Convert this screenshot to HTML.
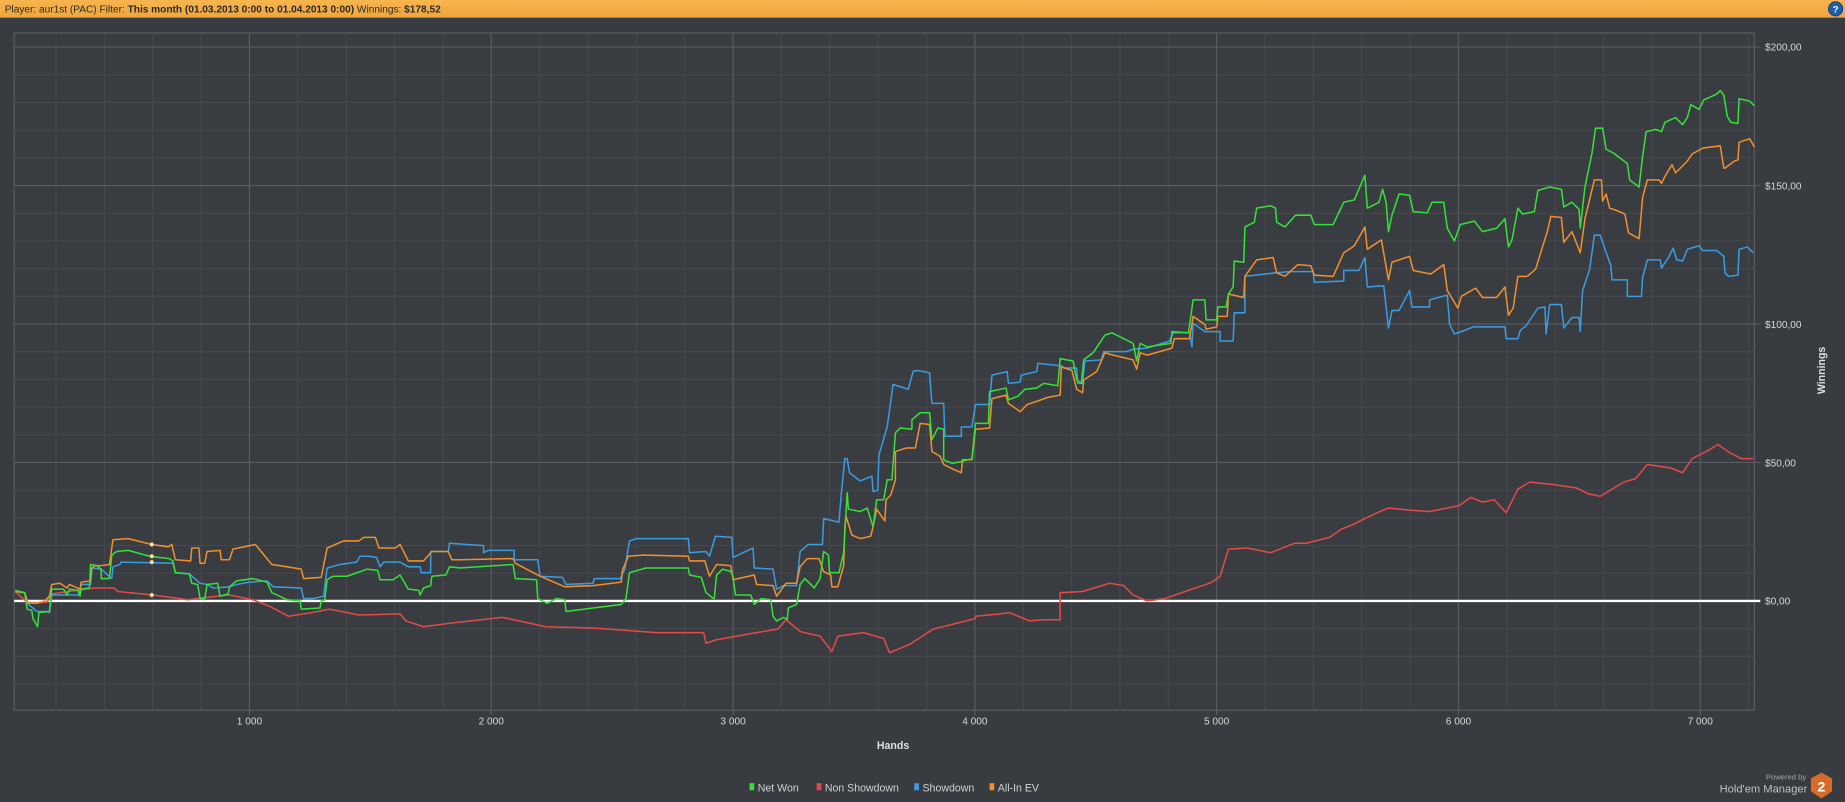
<!DOCTYPE html>
<html><head><meta charset="utf-8"><style>
html,body{margin:0;padding:0;background:#383b3f;overflow:hidden}
svg{display:block}
text{font-family:"Liberation Sans",sans-serif}
</style></head><body>
<svg width="1845" height="802" viewBox="0 0 1568 682" preserveAspectRatio="none" xmlns="http://www.w3.org/2000/svg">
<defs><linearGradient id="hd" x1="0" y1="0" x2="0" y2="1"><stop offset="0" stop-color="#f7b54f"/><stop offset="1" stop-color="#eea63c"/></linearGradient></defs>
<rect x="0" y="0" width="1568" height="682" fill="#383b3f"/>
<rect x="0" y="0" width="1568" height="15" fill="url(#hd)"/>
<text x="4" y="10.5" font-size="8.6" fill="#2a2a2a">Player: aur1st (PAC)  Filter: <tspan font-weight="bold">This month (01.03.2013 0:00 to 01.04.2013 0:00)</tspan>  Winnings: <tspan font-weight="bold">$178,52</tspan></text>
<circle cx="1560" cy="7.5" r="6" fill="#1d5fa8" stroke="#0d3f7a" stroke-width="0.8"/>
<text x="1560" y="10.6" font-size="8" font-weight="bold" fill="#fff" text-anchor="middle">?</text>
<rect x="12" y="28" width="1479" height="576" fill="#393c40" stroke="#5a5e63" stroke-width="1"/>
<g stroke="#46494d" stroke-width="0.9">
<line x1="12" y1="63.55" x2="1491" y2="63.55"/><line x1="12" y1="87.1" x2="1491" y2="87.1"/><line x1="12" y1="110.65" x2="1491" y2="110.65"/><line x1="12" y1="134.2" x2="1491" y2="134.2"/><line x1="12" y1="181.3" x2="1491" y2="181.3"/><line x1="12" y1="204.85" x2="1491" y2="204.85"/><line x1="12" y1="228.4" x2="1491" y2="228.4"/><line x1="12" y1="251.95" x2="1491" y2="251.95"/><line x1="12" y1="299.05" x2="1491" y2="299.05"/><line x1="12" y1="322.6" x2="1491" y2="322.6"/><line x1="12" y1="346.15" x2="1491" y2="346.15"/><line x1="12" y1="369.7" x2="1491" y2="369.7"/><line x1="12" y1="416.8" x2="1491" y2="416.8"/><line x1="12" y1="440.35" x2="1491" y2="440.35"/><line x1="12" y1="463.9" x2="1491" y2="463.9"/><line x1="12" y1="487.45" x2="1491" y2="487.45"/><line x1="12" y1="534.55" x2="1491" y2="534.55"/><line x1="12" y1="558.1" x2="1491" y2="558.1"/><line x1="12" y1="581.65" x2="1491" y2="581.65"/>
<line x1="47.6" y1="28" x2="47.6" y2="604"/><line x1="88.7" y1="28" x2="88.7" y2="604"/><line x1="129.8" y1="28" x2="129.8" y2="604"/><line x1="170.9" y1="28" x2="170.9" y2="604"/><line x1="253.1" y1="28" x2="253.1" y2="604"/><line x1="294.2" y1="28" x2="294.2" y2="604"/><line x1="335.3" y1="28" x2="335.3" y2="604"/><line x1="376.4" y1="28" x2="376.4" y2="604"/><line x1="458.6" y1="28" x2="458.6" y2="604"/><line x1="499.7" y1="28" x2="499.7" y2="604"/><line x1="540.8" y1="28" x2="540.8" y2="604"/><line x1="581.9" y1="28" x2="581.9" y2="604"/><line x1="664.1" y1="28" x2="664.1" y2="604"/><line x1="705.2" y1="28" x2="705.2" y2="604"/><line x1="746.3" y1="28" x2="746.3" y2="604"/><line x1="787.4" y1="28" x2="787.4" y2="604"/><line x1="869.6" y1="28" x2="869.6" y2="604"/><line x1="910.7" y1="28" x2="910.7" y2="604"/><line x1="951.8" y1="28" x2="951.8" y2="604"/><line x1="992.9" y1="28" x2="992.9" y2="604"/><line x1="1075.1" y1="28" x2="1075.1" y2="604"/><line x1="1116.2" y1="28" x2="1116.2" y2="604"/><line x1="1157.3" y1="28" x2="1157.3" y2="604"/><line x1="1198.4" y1="28" x2="1198.4" y2="604"/><line x1="1280.6" y1="28" x2="1280.6" y2="604"/><line x1="1321.7" y1="28" x2="1321.7" y2="604"/><line x1="1362.8" y1="28" x2="1362.8" y2="604"/><line x1="1403.9" y1="28" x2="1403.9" y2="604"/><line x1="1486.1" y1="28" x2="1486.1" y2="604"/>
</g>
<g stroke="#595c61" stroke-width="1">
<line x1="12" y1="40" x2="1496" y2="40"/><line x1="12" y1="157.75" x2="1496" y2="157.75"/><line x1="12" y1="275.5" x2="1496" y2="275.5"/><line x1="12" y1="393.25" x2="1496" y2="393.25"/>
<line x1="212" y1="28" x2="212" y2="608"/><line x1="417.5" y1="28" x2="417.5" y2="608"/><line x1="623" y1="28" x2="623" y2="608"/><line x1="828.5" y1="28" x2="828.5" y2="608"/><line x1="1034" y1="28" x2="1034" y2="608"/><line x1="1239.5" y1="28" x2="1239.5" y2="608"/><line x1="1445" y1="28" x2="1445" y2="608"/>
</g>
<line x1="12" y1="511" x2="1496" y2="511" stroke="#ffffff" stroke-width="2"/>
<g font-size="8.6" fill="#d8d8d8">
<text x="1500" y="43">$200,00</text><text x="1500" y="161">$150,00</text><text x="1500" y="279">$100,00</text><text x="1500" y="396.5">$50,00</text><text x="1500" y="514">$0,00</text>
</g>
<g font-size="8.6" fill="#d8d8d8" text-anchor="middle">
<text x="212" y="616">1 000</text><text x="417.5" y="616">2 000</text><text x="623" y="616">3 000</text><text x="828.5" y="616">4 000</text><text x="1034" y="616">5 000</text><text x="1239.5" y="616">6 000</text><text x="1445" y="616">7 000</text>
</g>
<text x="759" y="637" font-size="9" font-weight="bold" fill="#e0e0e0" text-anchor="middle">Hands</text>
<text transform="translate(1551,315) rotate(-90)" font-size="9" font-weight="bold" fill="#e0e0e0" text-anchor="middle">Winnings</text>
<g fill="none" stroke-width="1.3" stroke-linejoin="round">
<polyline stroke="#e24a4a" points="13,503 24,513 40,512 44,505 80,500 97,500 100,503 130,506 160,510 175,508 195,506 215,510 230,516 245,524 265,521 280,518 305,523 340,522 345,528 360,533 382,530 427,525 464,533 504,534 558,538 598,538 600,547 609,544 643,538 661,535 668,527 680,537 697,541 707,554 712,541 734,538 751,543 756,555 773,548 793,535 805,532 829,526 829,524 850,522 858,521 875,528 886,527 901,527 901,504 920,503 943,496 955,498 963,506 975,511 990,509 1013,501 1025,497 1030,495 1037,490 1044,467 1060,466 1080,470 1100,462 1110,462 1130,457 1140,450 1150,446 1160,441 1175,434 1180,432 1200,434 1215,435 1240,430 1250,423 1260,427 1270,425 1280,436 1290,416 1300,410 1320,412 1340,415 1350,420 1360,422 1380,410 1390,407 1400,395 1420,398 1430,402 1438,390 1450,384 1460,378 1470,385 1480,390 1490,390"/>
<polyline stroke="#3b9be0" points="13,503 21,504 24,514 28,517 31,520 40,520 42,521 44,506 67,506 69,497 77,497 78,483 86,484 95,492 96,482 102,480 103,478 147,479 149,487 161,488 170,496 176,497 181,500 195,499 201,497 212,495 227,494 232,499 256,500 258,509 266,509 275,507 278,483 289,480 303,478 306,473 313,473 320,474 323,482 326,478 340,478 347,482 357,482 358,487 366,487 366,469 381,469 382,462 411,464 411,470 415,468 437,468 437,476 457,476 459,490 478,491 481,497 504,496 505,492 527,492 531,484 535,460 541,458 585,458 586,470 600,469 603,473 608,456 622,457 623,474 640,466 641,483 657,484 660,501 666,498 677,498 680,469 687,463 699,463 700,441 713,444 715,420 718,390 720,390 722,402 731,409 741,405 742,418 746,417 747,387 754,363 759,327 772,331 776,316 779,315 790,317 792,343 802,343 803,371 817,371 817,363 826,363 829,344 841,344 843,319 856,316 857,326 867,325 868,319 881,316 882,309 902,311 904,313 915,313 916,326 920,326 922,307 936,306 938,299 957,299 963,297 975,296 994,290 997,283 1011,283 1013,295 1014,275 1024,282 1037,282 1037,290 1048,290 1049,266 1058,266 1058,235 1084,232 1096,231 1116,231 1117,240 1142,239 1142,230 1155,230 1160,219 1162,244 1176,243 1180,279 1183,264 1189,264 1198,247 1200,261 1215,261 1215,255 1230,251 1232,276 1236,284 1242,282 1252,278 1279,278 1280,288 1290,288 1292,281 1297,277 1305,265 1307,262 1313,261 1314,284 1317,259 1327,259 1329,279 1336,270 1342,270 1343,282 1345,247 1351,229 1355,200 1360,200 1363,209 1369,226 1370,238 1383,238 1383,252 1395,252 1396,236 1400,221 1411,221 1412,228 1418,219 1422,211 1425,221 1430,222 1434,212 1444,209 1447,213 1459,213 1465,218 1466,232 1469,235 1477,234 1478,212 1485,210 1490,215"/>
<polyline stroke="#f08f2e" points="13,503 21,504 24,513 31,513 38,511 42,507 44,497 51,496 57,500 59,497 68,501 69,495 77,494 78,483 81,481 86,481 93,480 96,459 109,458 129,463 143,465 146,463 149,476 162,477 163,466 169,466 170,479 174,479 176,469 187,468 188,476 195,476 198,467 217,463 231,480 244,482 256,484 258,492 273,491 278,466 292,460 305,460 309,457 319,457 322,466 336,466 340,463 347,477 360,477 367,469 381,469 384,476 391,476 436,475 438,479 459,490 480,499 504,498 528,495 529,485 534,473 547,472 585,473 586,477 599,477 603,490 609,480 621,481 623,493 641,489 643,497 657,498 660,507 668,496 677,496 680,482 686,475 696,475 700,486 706,489 707,499 712,499 717,481 718,448 719,439 724,455 731,458 740,456 742,448 745,433 752,443 753,425 757,421 761,408 761,384 770,381 778,381 782,360 790,361 792,384 799,388 802,395 810,399 817,402 818,391 826,391 829,365 841,364 843,339 855,336 857,343 867,350 873,344 882,341 890,338 901,336 902,312 911,315 915,331 920,334 921,323 932,316 939,300 946,302 963,306 966,314 969,300 975,302 996,296 998,288 1011,288 1014,269 1024,276 1025,280 1034,278 1035,269 1043,269 1044,250 1057,253 1058,235 1068,221 1082,219 1085,232 1092,235 1103,225 1114,226 1117,234 1133,235 1142,215 1151,209 1160,193 1162,212 1174,204 1180,238 1183,223 1198,218 1201,230 1216,233 1227,225 1230,247 1239,262 1242,252 1254,245 1260,253 1272,253 1279,244 1282,268 1286,262 1290,235 1298,235 1305,229 1315,197 1318,184 1327,185 1329,206 1336,197 1343,215 1347,186 1355,153 1361,153 1362,171 1365,165 1368,177 1374,179 1381,182 1384,198 1393,203 1396,168 1400,153 1410,153 1412,156 1415,150 1421,140 1424,147 1434,137 1438,131 1447,126 1462,124 1465,143 1466,143 1474,137 1477,136 1478,121 1487,118 1491,125"/>
<polyline stroke="#35e03a" points="13,502 21,504 23,518 27,519 28,526 32,533 33,521 42,520 44,501 54,501 57,506 59,501 66,502 68,507 69,501 76,500 77,480 82,481 86,484 86,492 93,492 95,472 99,469 109,468 127,473 144,475 147,477 149,487 161,488 163,496 168,497 170,509 174,509 176,497 185,496 187,507 194,505 195,499 201,494 215,492 227,495 231,504 244,510 255,511 256,518 272,517 273,511 276,510 278,493 283,490 295,490 312,484 321,485 323,493 334,493 340,489 347,501 356,502 357,506 360,500 366,498 367,490 379,489 382,482 391,483 436,480 438,492 456,493 457,509 465,513 473,509 480,510 481,520 504,517 528,514 532,509 535,487 549,483 585,483 586,489 596,491 600,504 605,508 607,509 609,489 614,484 621,486 623,490 625,506 638,506 641,514 647,509 655,510 657,524 660,528 666,525 669,527 670,517 677,514 680,497 684,492 692,500 697,492 700,469 704,472 705,487 713,487 717,470 720,419 721,433 731,435 737,432 742,448 745,425 751,425 754,408 758,408 761,368 765,364 775,365 775,357 782,351 790,351 792,374 797,364 802,365 802,391 809,394 815,393 826,390 829,360 840,360 841,333 855,330 857,340 865,337 871,331 881,330 887,326 899,328 901,305 912,307 915,323 919,326 921,306 929,300 939,285 945,283 963,292 966,307 969,292 975,295 995,292 996,282 1010,283 1011,276 1014,255 1024,255 1025,272 1034,272 1035,261 1042,261 1044,250 1048,244 1049,222 1057,223 1058,193 1066,189 1068,177 1080,175 1084,177 1085,189 1092,193 1101,183 1114,183 1117,191 1133,191 1142,172 1151,170 1160,149 1162,177 1172,172 1175,161 1178,172 1180,197 1183,183 1189,165 1198,166 1201,180 1213,181 1217,172 1227,172 1230,194 1236,205 1241,191 1253,188 1260,197 1272,194 1279,186 1282,210 1285,204 1290,177 1294,182 1304,180 1307,162 1317,159 1327,161 1329,176 1336,172 1342,178 1343,194 1347,159 1353,130 1356,109 1362,109 1365,127 1371,130 1383,139 1385,153 1393,159 1396,133 1399,112 1407,110 1412,112 1415,104 1424,100 1430,106 1434,100 1437,89 1444,93 1448,85 1459,80 1462,77 1465,81 1468,99 1471,104 1477,105 1478,84 1487,86 1491,90"/>
</g>
<g fill="#f5f0dc" stroke="#e0a050" stroke-width="0.6">
<circle cx="129" cy="463" r="1.6"/><circle cx="129" cy="473" r="1.6"/><circle cx="129" cy="478" r="1.6"/><circle cx="129" cy="506" r="1.6"/>
</g>
<g font-size="9" fill="#d0d0d0">
<rect x="637" y="666" width="4" height="6" fill="#35e03a"/><text x="644" y="673">Net Won</text>
<rect x="694" y="666" width="4" height="6" fill="#e24a4a"/><text x="701" y="673">Non Showdown</text>
<rect x="777" y="666" width="4" height="6" fill="#3b9be0"/><text x="784" y="673">Showdown</text>
<rect x="841" y="666" width="4" height="6" fill="#f08f2e"/><text x="848" y="673">All-In EV</text>
</g>
<text x="1535" y="663" font-size="6.5" fill="#a8a8a8" text-anchor="end">Powered by</text>
<text x="1536" y="674" font-size="9.5" fill="#c0c0c0" text-anchor="end">Hold'em Manager</text>
<polygon points="1548,657 1557,662 1557,673 1548,679 1539,673 1539,662" fill="#d96a2a"/>
<text x="1548" y="673" font-size="12" font-weight="bold" fill="#fff" text-anchor="middle">2</text>
</svg>
</body></html>
